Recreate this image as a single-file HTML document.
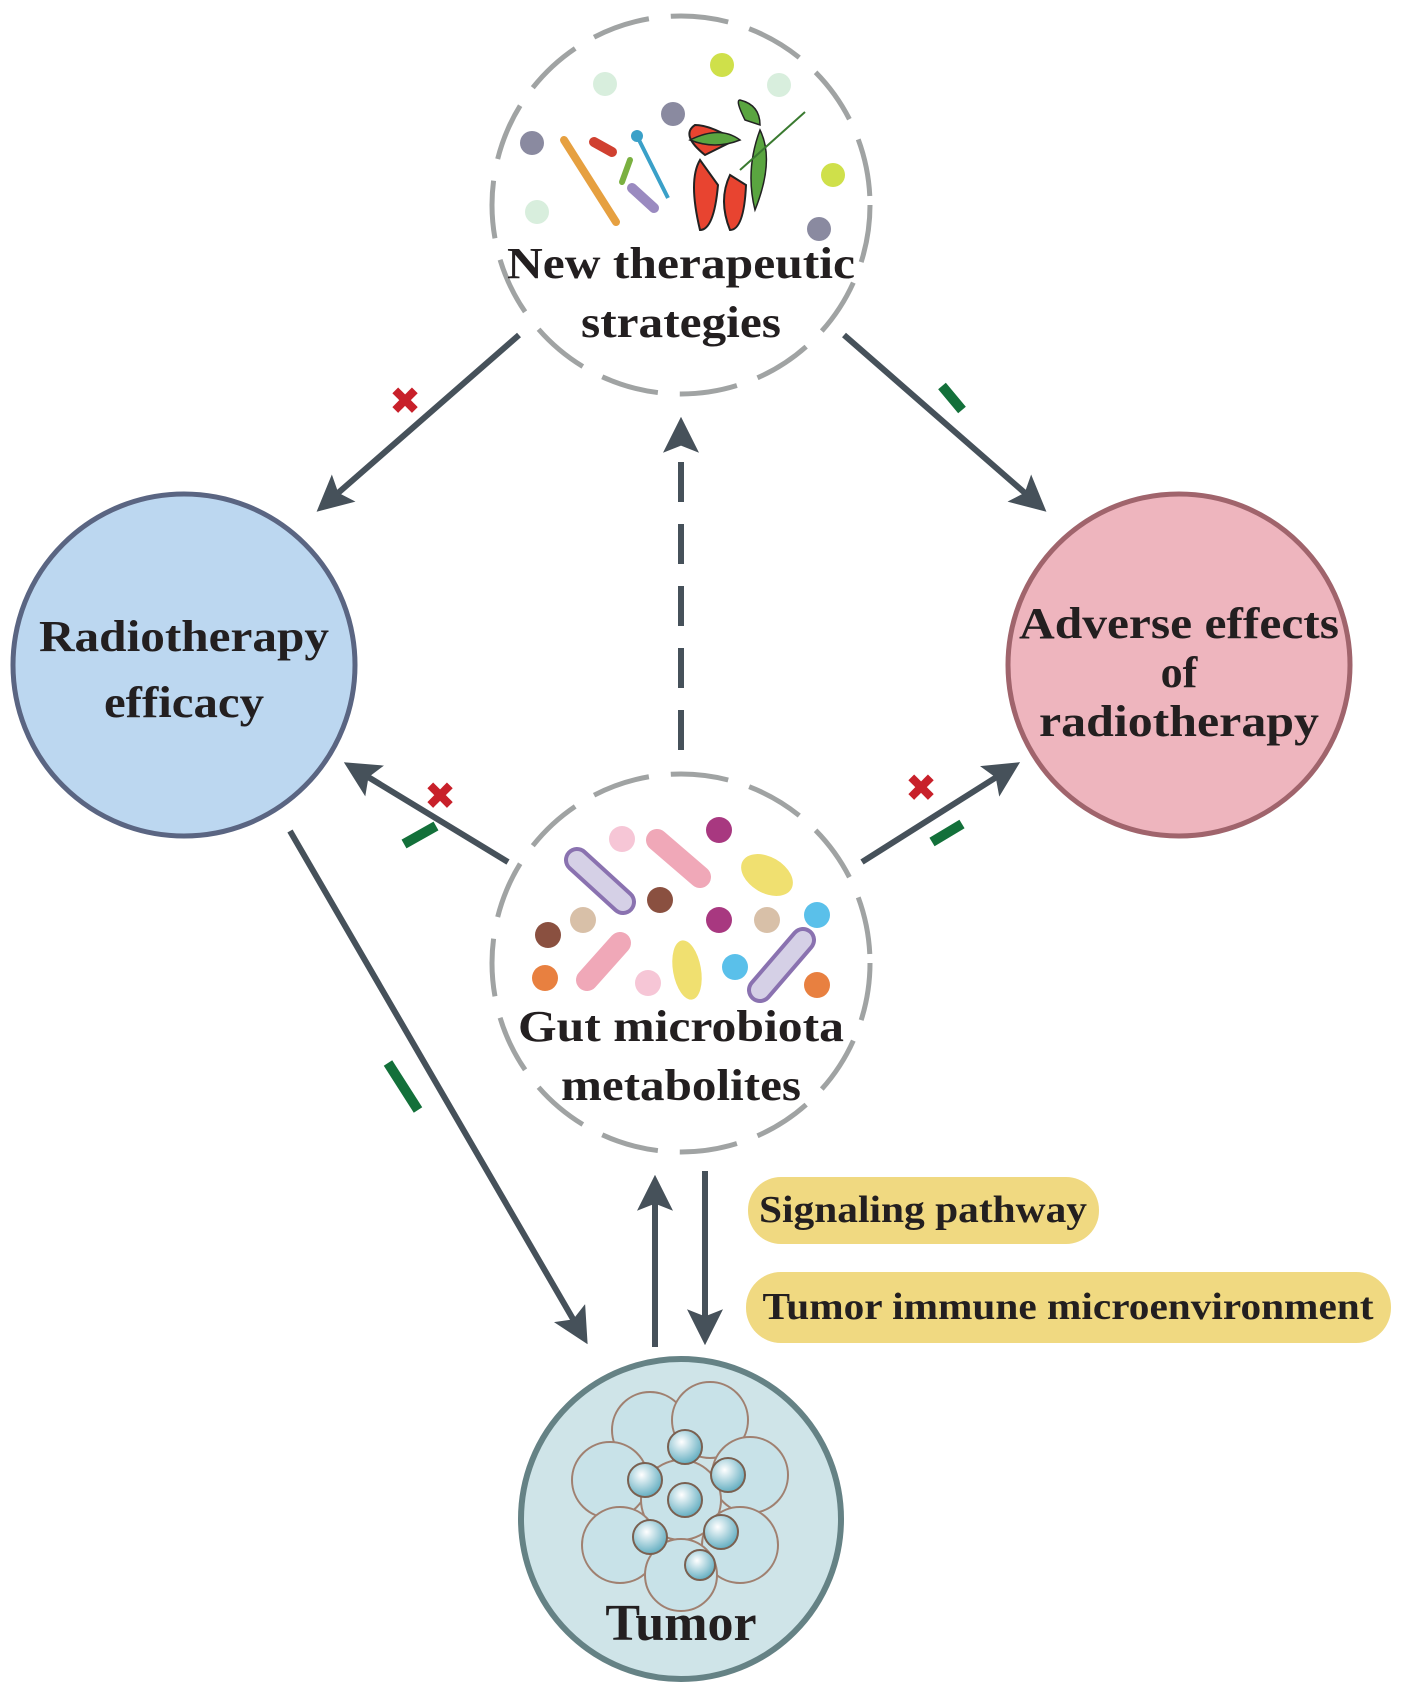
<!DOCTYPE html>
<html><head><meta charset="utf-8"><style>
html,body{margin:0;padding:0;background:#fff}
svg{display:block}
text{font-family:"Liberation Serif",serif;font-weight:bold;fill:#231f20}
</style></head><body>
<svg width="1406" height="1698" viewBox="0 0 1406 1698" xmlns="http://www.w3.org/2000/svg">
<defs>
<marker id="ah" viewBox="0 0 10 10" refX="8" refY="5" markerWidth="6" markerHeight="6" orient="auto" markerUnits="strokeWidth">
<path d="M0,0 L10,5 L0,10 L2,5 z" fill="#46515a"/></marker>
<radialGradient id="gb" cx="0.4" cy="0.35" r="0.7"><stop offset="0" stop-color="#fff"/><stop offset="1" stop-color="#5aa9bd"/></radialGradient>
</defs>

<circle cx="184" cy="665" r="171" fill="#bcd7f0" stroke="#5a6582" stroke-width="5"/>
<circle cx="1179" cy="665" r="171" fill="#eeb5be" stroke="#a0646c" stroke-width="5"/>
<circle cx="681" cy="1519" r="160" fill="#cfe4e8" stroke="#658285" stroke-width="6"/>
<circle cx="681" cy="205" r="189" fill="#fff" stroke="#a0a3a3" stroke-width="5" stroke-dasharray="58 22"/>
<circle cx="681" cy="963" r="189" fill="#fff" stroke="#a0a3a3" stroke-width="5" stroke-dasharray="58 22"/>

<g stroke="#46515a" stroke-width="6" fill="none" marker-end="url(#ah)">
<line x1="519" y1="335" x2="322" y2="507"/>
<line x1="844" y1="335" x2="1041" y2="507"/>
<line x1="681" y1="750" x2="681" y2="424" stroke-dasharray="40 22"/>
<line x1="508" y1="862" x2="350" y2="766"/>
<line x1="862" y1="862" x2="1014" y2="766"/>
<line x1="290" y1="831" x2="584" y2="1338"/>
<line x1="655" y1="1347" x2="655" y2="1182"/>
<line x1="705" y1="1171" x2="705" y2="1338"/>
</g>

<g>
<text x="405" y="414" text-anchor="middle" font-size="38" style="fill:#c8202a;font-family:'DejaVu Sans'">✖</text>
<text x="440" y="809" text-anchor="middle" font-size="38" style="fill:#c8202a;font-family:'DejaVu Sans'">✖</text>
<text x="921" y="801" text-anchor="middle" font-size="38" style="fill:#c8202a;font-family:'DejaVu Sans'">✖</text>
</g>
<g stroke="#13703a" stroke-width="10">
<line x1="942" y1="386" x2="962" y2="410"/>
<line x1="404" y1="844" x2="436" y2="826"/>
<line x1="932" y1="842" x2="962" y2="824"/>
<line x1="388" y1="1063" x2="418" y2="1110"/>
</g>

<rect x="748" y="1177" width="351" height="67" rx="33" fill="#f0d981"/>
<rect x="746" y="1272" width="645" height="71" rx="35" fill="#f0d981"/>
<text x="923" y="1222" font-size="38" text-anchor="middle" textLength="328" lengthAdjust="spacingAndGlyphs">Signaling pathway</text>
<text x="1068" y="1319" font-size="38" text-anchor="middle" textLength="611" lengthAdjust="spacingAndGlyphs">Tumor immune microenvironment</text>

<g>
<circle cx="605" cy="84" r="12" fill="#d8eedd"/>
<circle cx="722" cy="65" r="12" fill="#cfe04a"/>
<circle cx="779" cy="85" r="12" fill="#d8eedd"/>
<circle cx="673" cy="114" r="12" fill="#8a8aa0"/>
<circle cx="532" cy="143" r="12" fill="#8a8aa0"/>
<circle cx="833" cy="175" r="12" fill="#cfe04a"/>
<circle cx="537" cy="212" r="12" fill="#d8eedd"/>
<circle cx="819" cy="229" r="12" fill="#8a8aa0"/>
<line x1="564" y1="140" x2="616" y2="222" stroke="#e6a040" stroke-width="8" stroke-linecap="round"/>
<line x1="594" y1="142" x2="612" y2="152" stroke="#d04030" stroke-width="10" stroke-linecap="round"/>
<line x1="630" y1="160" x2="622" y2="182" stroke="#7ab040" stroke-width="6" stroke-linecap="round"/>
<line x1="637" y1="136" x2="668" y2="198" stroke="#3aa0c8" stroke-width="4"/>
<circle cx="637" cy="136" r="6" fill="#3aa0c8"/>
<line x1="632" y1="188" x2="654" y2="208" stroke="#9a8ac0" stroke-width="10" stroke-linecap="round"/>
<path d="M700 160 q-12 20 0 70 q14 0 18 -45 z" fill="#e84430" stroke="#222" stroke-width="2"/>
<path d="M730 175 q-12 25 0 55 q14 0 16 -45 z" fill="#e84430" stroke="#222" stroke-width="2"/>
<path d="M705 155 q-25 -20 -10 -30 q15 0 40 15 z" fill="#e84430" stroke="#222" stroke-width="2"/>
<path d="M690 140 q30 -15 50 0 q-25 10 -50 0z" fill="#5aa540" stroke="#222" stroke-width="1.5"/>
<path d="M745 120 q-10 -20 -5 -20 q20 5 20 25z" fill="#5aa540" stroke="#222" stroke-width="1.5"/>
<path d="M760 130 q15 30 -5 80 q-10 -40 5 -80z" fill="#5aa540" stroke="#222" stroke-width="1.5"/>
<line x1="805" y1="112" x2="740" y2="170" stroke="#3a7a30" stroke-width="2"/>
</g>
<text x="681" y="278" font-size="44" text-anchor="middle" textLength="348" lengthAdjust="spacingAndGlyphs">New therapeutic</text>
<text x="681" y="337" font-size="44" text-anchor="middle" textLength="200" lengthAdjust="spacingAndGlyphs">strategies</text>

<g>
<line x1="577" y1="860" x2="623" y2="902" stroke="#8a72b0" stroke-width="26" stroke-linecap="round"/>
<line x1="577" y1="860" x2="623" y2="902" stroke="#d5d0e6" stroke-width="18" stroke-linecap="round"/>
<line x1="657" y1="840" x2="700" y2="877" stroke="#f0a8b8" stroke-width="22" stroke-linecap="round"/>
<line x1="587" y1="980" x2="620" y2="943" stroke="#f0a8b8" stroke-width="22" stroke-linecap="round"/>
<line x1="760" y1="990" x2="803" y2="940" stroke="#8a72b0" stroke-width="26" stroke-linecap="round"/>
<line x1="760" y1="990" x2="803" y2="940" stroke="#d5d0e6" stroke-width="18" stroke-linecap="round"/>
<ellipse cx="767" cy="875" rx="28" ry="18" transform="rotate(30 767 875)" fill="#f0e070"/>
<ellipse cx="687" cy="970" rx="14" ry="30" transform="rotate(-10 687 970)" fill="#f0e070"/>
<circle cx="622" cy="839" r="13" fill="#f6c6d6"/>
<circle cx="719" cy="830" r="13" fill="#a83880"/>
<circle cx="660" cy="900" r="13" fill="#8a5040"/>
<circle cx="548" cy="935" r="13" fill="#8a5040"/>
<circle cx="583" cy="920" r="13" fill="#d8c0a8"/>
<circle cx="719" cy="920" r="13" fill="#a83880"/>
<circle cx="767" cy="920" r="13" fill="#d8c0a8"/>
<circle cx="817" cy="915" r="13" fill="#5ac0ea"/>
<circle cx="648" cy="983" r="13" fill="#f6c6d6"/>
<circle cx="735" cy="967" r="13" fill="#5ac0ea"/>
<circle cx="545" cy="978" r="13" fill="#e88040"/>
<circle cx="817" cy="985" r="13" fill="#e88040"/>
</g>
<text x="681" y="1041" font-size="44" text-anchor="middle" textLength="326" lengthAdjust="spacingAndGlyphs">Gut microbiota</text>
<text x="681" y="1100" font-size="44" text-anchor="middle" textLength="240" lengthAdjust="spacingAndGlyphs">metabolites</text>

<text x="184" y="651" font-size="44" text-anchor="middle" textLength="290" lengthAdjust="spacingAndGlyphs">Radiotherapy</text>
<text x="184" y="717" font-size="44" text-anchor="middle" textLength="160" lengthAdjust="spacingAndGlyphs">efficacy</text>
<text x="1179" y="638" font-size="44" text-anchor="middle" textLength="320" lengthAdjust="spacingAndGlyphs">Adverse effects</text>
<text x="1179" y="687" font-size="44" text-anchor="middle">of</text>
<text x="1179" y="736" font-size="44" text-anchor="middle" textLength="280" lengthAdjust="spacingAndGlyphs">radiotherapy</text>

<g stroke="#a08070" stroke-width="2" fill="#c8e2e8">
<circle cx="650" cy="1430" r="38"/><circle cx="710" cy="1420" r="38"/>
<circle cx="610" cy="1480" r="38"/><circle cx="750" cy="1475" r="38"/>
<circle cx="681" cy="1500" r="40"/><circle cx="620" cy="1545" r="38"/>
<circle cx="740" cy="1545" r="38"/><circle cx="681" cy="1575" r="36"/>
</g>
<g fill="url(#gb)" stroke="#7a6050" stroke-width="2">
<circle cx="685" cy="1447" r="17"/><circle cx="645" cy="1480" r="17"/>
<circle cx="728" cy="1475" r="17"/><circle cx="685" cy="1500" r="17"/>
<circle cx="650" cy="1537" r="17"/><circle cx="721" cy="1532" r="17"/>
<circle cx="700" cy="1565" r="15"/>
</g>
<text x="681" y="1640" font-size="52" text-anchor="middle">Tumor</text>
</svg>
</body></html>
